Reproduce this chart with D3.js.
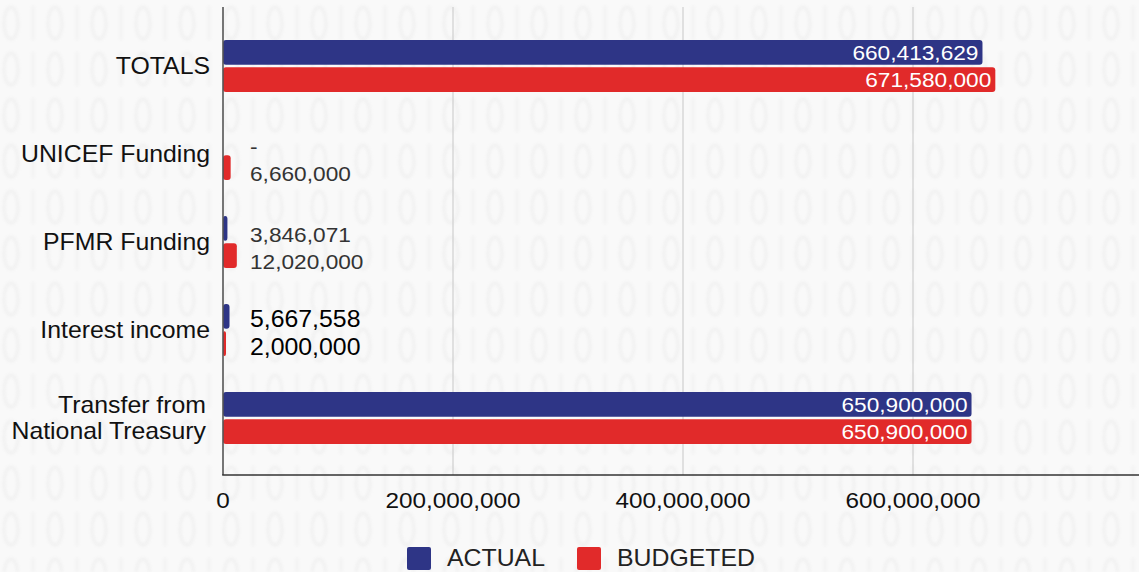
<!DOCTYPE html>
<html>
<head>
<meta charset="utf-8">
<script src="https://cdn.jsdelivr.net/npm/d3@7"></script>
<style>
  html, body { margin: 0; padding: 0; background: #f9f9f9; }
  svg { display: block; font-family: "Liberation Sans", Arial, sans-serif; }
</style>
</head>
<body>
<svg id="chart"></svg>
<script>
// --- Data ---
const categories = ["TOTALS", "UNICEF Funding", "PFMR Funding", "Interest income", "Transfer from National Treasury"];
const actual = [660413629, 0, 3846071, 5667558, 650900000];
const budgeted = [671580000, 6660000, 12020000, 2000000, 650900000];
const seriesNames = ["ACTUAL", "BUDGETED"];
const xTicks = [0, 200000000, 400000000, 600000000];

const colors = { ACTUAL: "#2e3586", BUDGETED: "#e12a2a" };

// --- Sizing ---
const width = 1139, height = 572;
const svg = d3.select("#chart").attr("width", width).attr("height", height);
const STRETCH = 1.08; // reference text is a little wider than Liberation Sans

// place a text at (x, y) and widen it horizontally around its anchor
function putText(parent, xPos, yPos) {
    return parent.append("text")
        .attr("transform", "translate(" + xPos + "," + yPos + ") scale(" + STRETCH + ",1)");
}

// --- Background (very faint "0 1" texture, drawn as shapes) ---
const defs = svg.append("defs");
defs.append("filter").attr("id", "soft")
    .append("feGaussianBlur").attr("stdDeviation", 1.5);
const pat = defs.append("pattern")
    .attr("id", "binary")
    .attr("width", 44).attr("height", 46)
    .attr("patternUnits", "userSpaceOnUse");
pat.append("ellipse")
    .attr("cx", 11).attr("cy", 23).attr("rx", 7).attr("ry", 16)
    .attr("fill", "none").attr("stroke", "#eeeeee").attr("stroke-width", 3);
pat.append("line")
    .attr("x1", 33).attr("x2", 33).attr("y1", 6).attr("y2", 40)
    .attr("stroke", "#f0f0f0").attr("stroke-width", 3);
svg.append("rect").attr("width", width).attr("height", height).attr("fill", "#f9f9f9");
svg.append("rect").attr("width", width).attr("height", height)
    .attr("fill", "url(#binary)").attr("filter", "url(#soft)").attr("opacity", 0.8);

// --- Scales ---
const x = d3.scaleLinear().domain([0, 800000000]).range([223, 1143]);
const y = d3.scaleBand().domain(categories).range([22, 462]);
const ySub = d3.scaleBand().domain(seriesNames).range([18, 70]).paddingInner(0.1);
const fmt = d3.format(",");

// --- Gridlines ---
svg.append("g")
    .selectAll("line")
    .data(xTicks.slice(1))
    .join("line")
    .attr("x1", d => x(d)).attr("x2", d => x(d))
    .attr("y1", 7).attr("y2", 475)
    .attr("stroke", "#cfcfcf")
    .attr("stroke-width", 1.2);

// --- Bars ---
const rows = categories.map((c, i) => ({ cat: c, values: [
    { key: "ACTUAL", value: actual[i] },
    { key: "BUDGETED", value: budgeted[i] }
]}));

const groups = svg.append("g")
    .selectAll("g")
    .data(rows)
    .join("g")
    .attr("transform", d => "translate(0," + y(d.cat) + ")");

groups.selectAll("rect")
    .data(d => d.values.filter(v => v.value > 0))
    .join("rect")
    .attr("x", x(0))
    .attr("y", d => ySub(d.key))
    .attr("width", d => Math.max(x(d.value) - x(0), 3))
    .attr("height", ySub.bandwidth())
    .attr("rx", 3)
    .attr("fill", d => colors[d.key]);

// --- Value labels ---
groups.each(function (row) {
    const g = d3.select(this);
    const big = row.cat === "Interest income";
    row.values.forEach(v => {
        const w = x(v.value) - x(0);
        const cy = ySub(v.key) + ySub.bandwidth() / 2;
        if (w > 150) {
            putText(g, x(v.value) - 4, cy)
                .attr("dy", "0.35em")
                .attr("text-anchor", "end")
                .attr("fill", "#fff")
                .attr("font-size", 21)
                .text(fmt(v.value));
        } else {
            putText(g, 250, cy + (big ? 3 : 6))
                .attr("dy", "0.35em")
                .attr("fill", big ? "#000" : "#333")
                .attr("font-size", big ? 23 : 21)
                .text(v.value === 0 ? "-" : fmt(v.value));
        }
    });
});

// --- Axes lines ---
svg.append("line")
    .attr("x1", x(0)).attr("x2", x(0))
    .attr("y1", 7).attr("y2", 475)
    .attr("stroke", "#555").attr("stroke-width", 1.6);
svg.append("line")
    .attr("x1", x(0) - 0.8).attr("x2", width)
    .attr("y1", 475).attr("y2", 475)
    .attr("stroke", "#333").attr("stroke-width", 1.6);

// --- X tick labels ---
const tickG = svg.append("g");
xTicks.forEach(t => {
    putText(tickG, x(t), 508)
        .attr("text-anchor", "middle")
        .attr("fill", "#111")
        .attr("font-size", 22.5)
        .text(fmt(t));
});

// --- Category labels ---
const catG = svg.append("g");
categories.forEach(c => {
    const cy = y(c) + y.bandwidth() / 2;
    if (c === "Transfer from National Treasury") {
        putText(catG, 206, cy - 13).attr("dy", "0.35em").attr("text-anchor", "end")
            .attr("fill", "#111").attr("font-size", 23).text("Transfer from");
        putText(catG, 206, cy + 13).attr("dy", "0.35em").attr("text-anchor", "end")
            .attr("fill", "#111").attr("font-size", 23).text("National Treasury");
    } else {
        putText(catG, 210, cy).attr("dy", "0.35em").attr("text-anchor", "end")
            .attr("fill", "#111").attr("font-size", 23).text(c);
    }
});

// --- Legend ---
const legend = svg.append("g");
const legendX = [407, 577];
seriesNames.forEach((s, i) => {
    legend.append("rect")
        .attr("x", legendX[i]).attr("y", 547)
        .attr("width", 24).attr("height", 23)
        .attr("rx", 2)
        .attr("fill", colors[s]);
    putText(legend, legendX[i] + 40, 566)
        .attr("fill", "#222")
        .attr("font-size", 23)
        .text(s);
});
</script>
</body>
</html>
